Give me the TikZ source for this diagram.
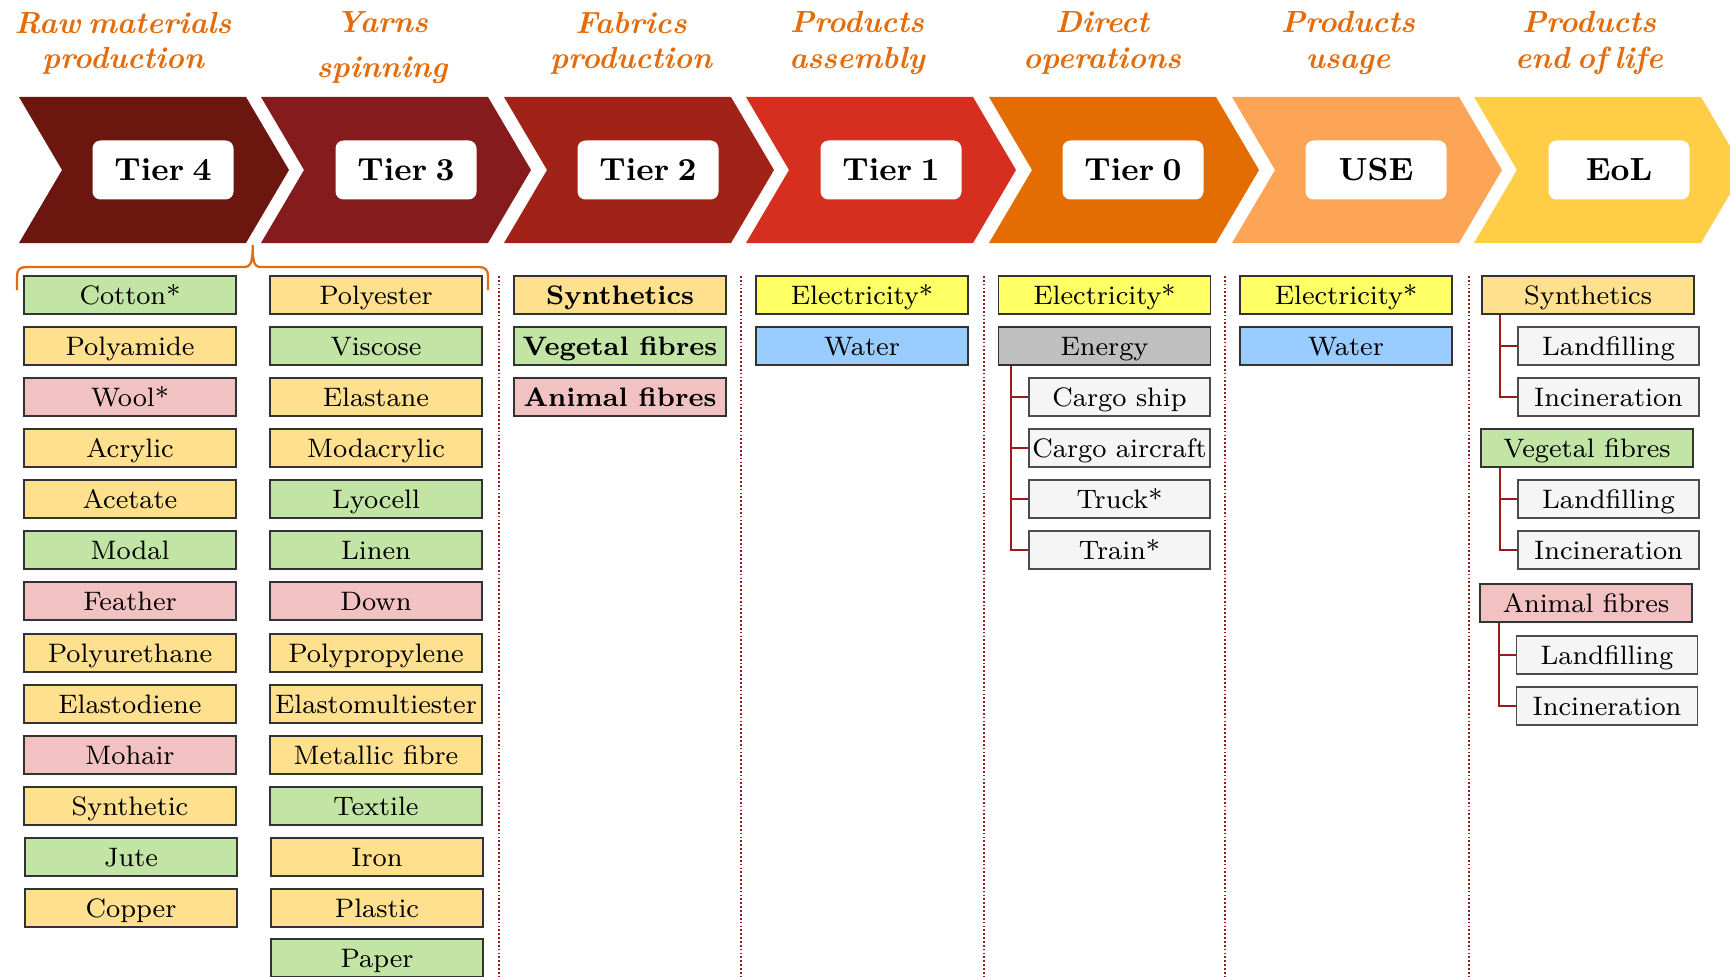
\documentclass[tikz,border=0pt]{standalone}
\usepackage{tikz}

\definecolor{hdrorange}{HTML}{E46C0A}
\definecolor{chevfour}{HTML}{6B1710}
\definecolor{chevthree}{HTML}{851B1C}
\definecolor{chevtwo}{HTML}{A12318}
\definecolor{chevone}{HTML}{D62F1F}
\definecolor{chevzero}{HTML}{E36C03}
\definecolor{chevuse}{HTML}{FDA556}
\definecolor{cheveol}{HTML}{FFCD46}
\definecolor{synfill}{HTML}{FFE08F}
\definecolor{vegfill}{HTML}{C2E4A5}
\definecolor{animfill}{HTML}{F2C2C3}
\definecolor{elecfill}{HTML}{FFFF66}
\definecolor{waterfill}{HTML}{99CCFF}
\definecolor{energyfill}{HTML}{BFBFBF}
\definecolor{subfill}{HTML}{F5F5F5}
\definecolor{treered}{HTML}{9B1B1B}

% tighter word spaces for the bold labels
\newcommand{\tierfont}{\fontsize{9.1}{11}\selectfont\bfseries\spaceskip 0.26em\relax}
\newcommand{\hdrfont}{\fontsize{8.7}{10}\selectfont\bfseries\itshape\spaceskip 0.24em\relax}

\tikzset{
  item/.style={draw=black!80, line width=0.4pt, minimum width=2.12cm, minimum height=0.38cm,
    inner sep=0pt, text height=5.8pt, text depth=0.6pt, font=\fontsize{7.6}{9}\selectfont},
  synbox/.style={item, fill=synfill},
  vegbox/.style={item, fill=vegfill},
  animbox/.style={item, fill=animfill},
  elecbox/.style={item, fill=elecfill},
  waterbox/.style={item, fill=waterfill},
  energybox/.style={item, fill=energyfill},
  subbox/.style={item, draw=black!70, fill=subfill, minimum width=1.81cm},
  tierbox/.style={fill=white, rounded corners=0.08cm, minimum width=1.41cm, minimum height=0.59cm,
    inner sep=0pt, text height=6.5pt, text depth=0.3pt, font=\tierfont},
  header/.style={align=center, inner sep=0pt, text=hdrorange, font=\hdrfont},
  treeline/.style={draw=treered, line width=0.6pt},
  colsep/.style={draw=treered, line width=0.6pt, dash pattern=on 0.5pt off 0.6pt},
  brace/.style={draw=hdrorange, line width=0.65pt}
}

\begin{document}
\begin{tikzpicture}[x=1cm,y=-1cm]
      \useasboundingbox (0,0) rectangle (17.30,9.76);

      % chevrons
      \fill [color=chevfour] (0.19,0.97) -- ++ (2.27,0) -- ++ (0.43,0.73) -- ++ (-0.43,0.73) -- ++ (-2.27,0) -- ++ (0.43,-0.73) -- cycle;
      \fill [color=chevthree] (2.61,0.97) -- ++ (2.27,0) -- ++ (0.43,0.73) -- ++ (-0.43,0.73) -- ++ (-2.27,0) -- ++ (0.43,-0.73) -- cycle;
      \fill [color=chevtwo] (5.04,0.97) -- ++ (2.27,0) -- ++ (0.43,0.73) -- ++ (-0.43,0.73) -- ++ (-2.27,0) -- ++ (0.43,-0.73) -- cycle;
      \fill [color=chevone] (7.46,0.97) -- ++ (2.27,0) -- ++ (0.43,0.73) -- ++ (-0.43,0.73) -- ++ (-2.27,0) -- ++ (0.43,-0.73) -- cycle;
      \fill [color=chevzero] (9.89,0.97) -- ++ (2.27,0) -- ++ (0.43,0.73) -- ++ (-0.43,0.73) -- ++ (-2.27,0) -- ++ (0.43,-0.73) -- cycle;
      \fill [color=chevuse] (12.32,0.97) -- ++ (2.27,0) -- ++ (0.43,0.73) -- ++ (-0.43,0.73) -- ++ (-2.27,0) -- ++ (0.43,-0.73) -- cycle;
      \fill [color=cheveol] (14.74,0.97) -- ++ (2.27,0) -- ++ (0.43,0.73) -- ++ (-0.43,0.73) -- ++ (-2.27,0) -- ++ (0.43,-0.73) -- cycle;

      \node[tierbox] (tier4) at (1.63,1.70) {Tier 4};
      \node[tierbox] (tier3) at (4.06,1.70) {Tier 3};
      \node[tierbox] (tier2) at (6.48,1.70) {Tier 2};
      \node[tierbox] (tier1) at (8.91,1.70) {Tier 1};
      \node[tierbox] (tier0) at (11.33,1.70) {Tier 0};
      \node[tierbox] (use) at (13.76,1.70) {USE};
      \node[tierbox] (eol) at (16.19,1.70) {EoL};

      % headers
      \node[header] (hraw) at (1.23,0.43) {Raw materials\\production};
      \node[header] (hyarn) at (3.82,0.48) {Yarns\\[0.1cm]spinning};
      \node[header] (hfab) at (6.31,0.43) {Fabrics\\production};
      \node[header] (hassy) at (8.57,0.43) {Products\\assembly};
      \node[header] (hdir) at (11.02,0.43) {Direct\\operations};
      \node[header] (husage) at (13.48,0.43) {Products\\usage};
      \node[header] (hend) at (15.89,0.43) {Products\\end of life};

      % brace over tiers 4 and 3
      \draw[brace] (0.17,2.90) -- (0.17,2.76) .. controls (0.17,2.70) and (0.20,2.67) .. (0.26,2.67) -- (2.44,2.67)
        .. controls (2.51,2.67) and (2.527,2.62) .. (2.527,2.45) .. controls (2.527,2.62) and (2.54,2.67) .. (2.61,2.67)
        -- (4.79,2.67) .. controls (4.85,2.67) and (4.88,2.70) .. (4.88,2.76) -- (4.88,2.90);

      % column separators
      \draw[colsep] (4.99,2.76) -- (4.99,9.76);
      \draw[colsep] (7.41,2.76) -- (7.41,9.76);
      \draw[colsep] (9.84,2.76) -- (9.84,9.76);
      \draw[colsep] (12.25,2.76) -- (12.25,9.76);
      \draw[colsep] (14.69,2.76) -- (14.69,9.76);

      % Tier 4
      \node[vegbox] (cotton) at (1.30,2.95) {Cotton*};
      \node[synbox] (polyamide) at (1.30,3.46) {Polyamide};
      \node[animbox] (wool) at (1.30,3.97) {Wool*};
      \node[synbox] (acrylic) at (1.30,4.48) {Acrylic};
      \node[synbox] (acetate) at (1.30,4.99) {Acetate};
      \node[vegbox] (modal) at (1.30,5.50) {Modal};
      \node[animbox] (feather) at (1.30,6.01) {Feather};
      \node[synbox] (polyurethane) at (1.30,6.53) {Polyurethane};
      \node[synbox] (elastodiene) at (1.30,7.04) {Elastodiene};
      \node[animbox] (mohair) at (1.30,7.55) {Mohair};
      \node[synbox] (synthetic) at (1.30,8.06) {Synthetic};
      \node[vegbox] (jute) at (1.31,8.57) {Jute};
      \node[synbox] (copper) at (1.31,9.08) {Copper};

      % Tier 3
      \node[synbox] (polyester) at (3.76,2.95) {Polyester};
      \node[vegbox] (viscose) at (3.76,3.46) {Viscose};
      \node[synbox] (elastane) at (3.76,3.97) {Elastane};
      \node[synbox] (modacrylic) at (3.76,4.48) {Modacrylic};
      \node[vegbox] (lyocell) at (3.76,4.99) {Lyocell};
      \node[vegbox] (linen) at (3.76,5.50) {Linen};
      \node[animbox] (down) at (3.76,6.01) {Down};
      \node[synbox] (polypropylene) at (3.76,6.53) {Polypropylene};
      \node[synbox] (elastomultiester) at (3.76,7.04) {Elastomultiester};
      \node[synbox] (metallic) at (3.76,7.55) {Metallic fibre};
      \node[vegbox] (textile) at (3.76,8.06) {Textile};
      \node[synbox] (iron) at (3.77,8.57) {Iron};
      \node[synbox] (plastic) at (3.77,9.08) {Plastic};
      \node[vegbox] (paper) at (3.77,9.58) {Paper};

      % Tier 2
      \node[synbox, font=\fontsize{7.6}{9}\selectfont\bfseries] (synfab) at (6.20,2.95) {Synthetics};
      \node[vegbox, font=\fontsize{7.6}{9}\selectfont\bfseries] (vegfab) at (6.20,3.46) {Vegetal fibres};
      \node[animbox, font=\fontsize{7.6}{9}\selectfont\bfseries] (animfab) at (6.20,3.97) {Animal fibres};

      % Tier 1
      \node[elecbox] (elecone) at (8.62,2.95) {Electricity*};
      \node[waterbox] (waterone) at (8.62,3.46) {Water};

      % Tier 0
      \node[elecbox] (eleczero) at (11.045,2.95) {Electricity*};
      \node[energybox] (energy) at (11.045,3.46) {Energy};
      \node[subbox] (ship) at (11.195,3.97) {Cargo ship};
      \node[subbox] (aircraft) at (11.195,4.48) {Cargo aircraft};
      \node[subbox] (truck) at (11.195,4.99) {Truck*};
      \node[subbox] (train) at (11.195,5.50) {Train*};
      \draw[treeline] ([xshift=0.13cm]energy.south west) |- (ship.west);
      \draw[treeline] ([xshift=0.13cm]energy.south west) |- (aircraft.west);
      \draw[treeline] ([xshift=0.13cm]energy.south west) |- (truck.west);
      \draw[treeline] ([xshift=0.13cm]energy.south west) |- (train.west);

      % USE
      \node[elecbox] (elecuse) at (13.46,2.95) {Electricity*};
      \node[waterbox] (wateruse) at (13.46,3.46) {Water};

      % EoL
      \node[synbox] (syneol) at (15.88,2.95) {Synthetics};
      \node[subbox] (synland) at (16.085,3.46) {Landfilling};
      \node[subbox] (syninc) at (16.085,3.97) {Incineration};
      \node[vegbox] (vegeol) at (15.87,4.48) {Vegetal fibres};
      \node[subbox] (vegland) at (16.085,4.99) {Landfilling};
      \node[subbox] (veginc) at (16.085,5.50) {Incineration};
      \node[animbox] (animeol) at (15.86,6.03) {Animal fibres};
      \node[subbox] (animland) at (16.07,6.55) {Landfilling};
      \node[subbox] (animinc) at (16.07,7.06) {Incineration};
      \draw[treeline] ([xshift=0.19cm]syneol.south west) |- (synland.west);
      \draw[treeline] ([xshift=0.19cm]syneol.south west) |- (syninc.west);
      \draw[treeline] ([xshift=0.20cm]vegeol.south west) |- (vegland.west);
      \draw[treeline] ([xshift=0.20cm]vegeol.south west) |- (veginc.west);
      \draw[treeline] ([xshift=0.20cm]animeol.south west) |- (animland.west);
      \draw[treeline] ([xshift=0.20cm]animeol.south west) |- (animinc.west);
\end{tikzpicture}
\end{document}
